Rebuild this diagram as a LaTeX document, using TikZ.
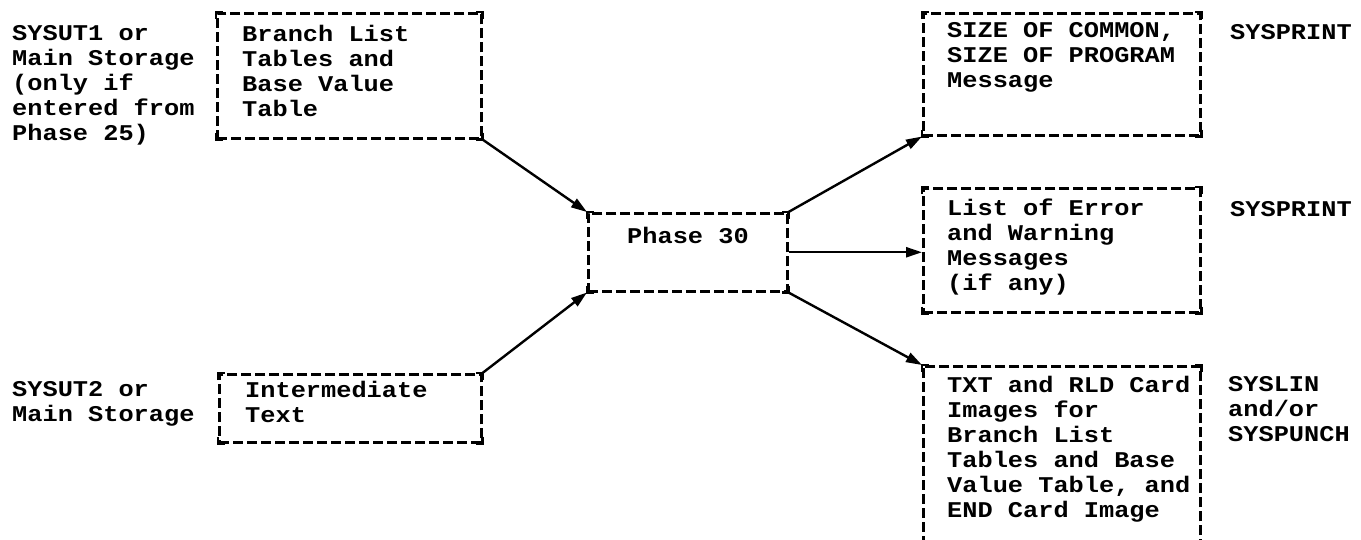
\documentclass[tikz,border=0pt]{standalone}
\usepackage{fontspec}
\setmainfont{Liberation Mono}[FakeStretch=1.125]
\usetikzlibrary{arrows.meta}
% solid corner pieces on a dashed box
\newcommand\boxcorners[1]{%
  \draw[corner] ([yshift=-7pt]#1.north west) -- (#1.north west) -- ([xshift=7pt]#1.north west);
  \draw[corner] ([yshift=-7pt]#1.north east) -- (#1.north east) -- ([xshift=-7pt]#1.north east);
  \draw[corner] ([yshift=7pt]#1.south west) -- (#1.south west) -- ([xshift=7pt]#1.south west);
  \draw[corner] ([yshift=7pt]#1.south east) -- (#1.south east) -- ([xshift=-7pt]#1.south east);}
\begin{document}
\begin{tikzpicture}[x=1pt,y=-1pt,
  box/.style={draw, line width=2.5pt, dash pattern=on 10pt off 4pt,
    anchor=north west, inner sep=0pt},
  corner/.style={line width=2.5pt, line join=miter},
  txt/.style={anchor=north west, inner sep=0pt, align=left,
    font=\fontsize{22.5}{25}\selectfont\bfseries,
    execute at begin node=\strut},
  flow/.style={line width=2.4pt, -{Triangle[length=16pt,width=10pt]}}]
\useasboundingbox (0,0) rectangle (1361,539);

% data sets and tables
\node[box, minimum width=264pt, minimum height=125pt] (bl) at (216,12) {};
\node[box, minimum width=262pt, minimum height=68pt] (it) at (218,373) {};
\node[box, minimum width=199pt, minimum height=78pt] (ph) at (587,212) {};
\node[box, minimum width=277pt, minimum height=122pt] (sz) at (922,12) {};
\node[box, minimum width=277pt, minimum height=124pt] (er) at (922,187) {};
\node[box, minimum width=277pt, minimum height=200pt] (tx) at (922,365) {};
\boxcorners{bl}\boxcorners{it}\boxcorners{ph}\boxcorners{sz}\boxcorners{er}\boxcorners{tx}

% texts
\node[txt] (inA) at (12,25) {SYSUT1 or\\Main Storage\\(only if\\entered from\\Phase 25)};
\node[txt] (blt) at (242,25) {Branch List\\Tables and\\Base Value\\Table};
\node[txt] (inB) at (12,381) {SYSUT2 or\\Main Storage};
\node[txt] (itt) at (245,381) {Intermediate\\Text};
\node[txt] (pht) at (627,226) {Phase 30};
\node[txt] (szt) at (947,22) {SIZE OF COMMON,\\SIZE OF PROGRAM\\Message};
\node[txt] (sp1) at (1230,22) {SYSPRINT};
\node[txt] (ert) at (947,199) {List of Error\\and Warning\\Messages\\(if any)};
\node[txt] (sp2) at (1230,199) {SYSPRINT};
\node[txt] (txt) at (947,376) {TXT and RLD Card\\Images for\\Branch List\\Tables and Base\\Value Table, and\\END Card Image};
\node[txt] (sl) at (1228,376) {SYSLIN\\and/or\\SYSPUNCH};

% flow
\draw[flow] (bl.south east) -- (ph.north west);
\draw[flow] (it.north east) -- (ph.south west);
\draw[flow] (ph.north east) -- (sz.south west);
\draw[flow] (ph.east) -- (ph.east -| er.west);
\draw[flow] (ph.south east) -- (tx.north west);
\end{tikzpicture}
\end{document}
